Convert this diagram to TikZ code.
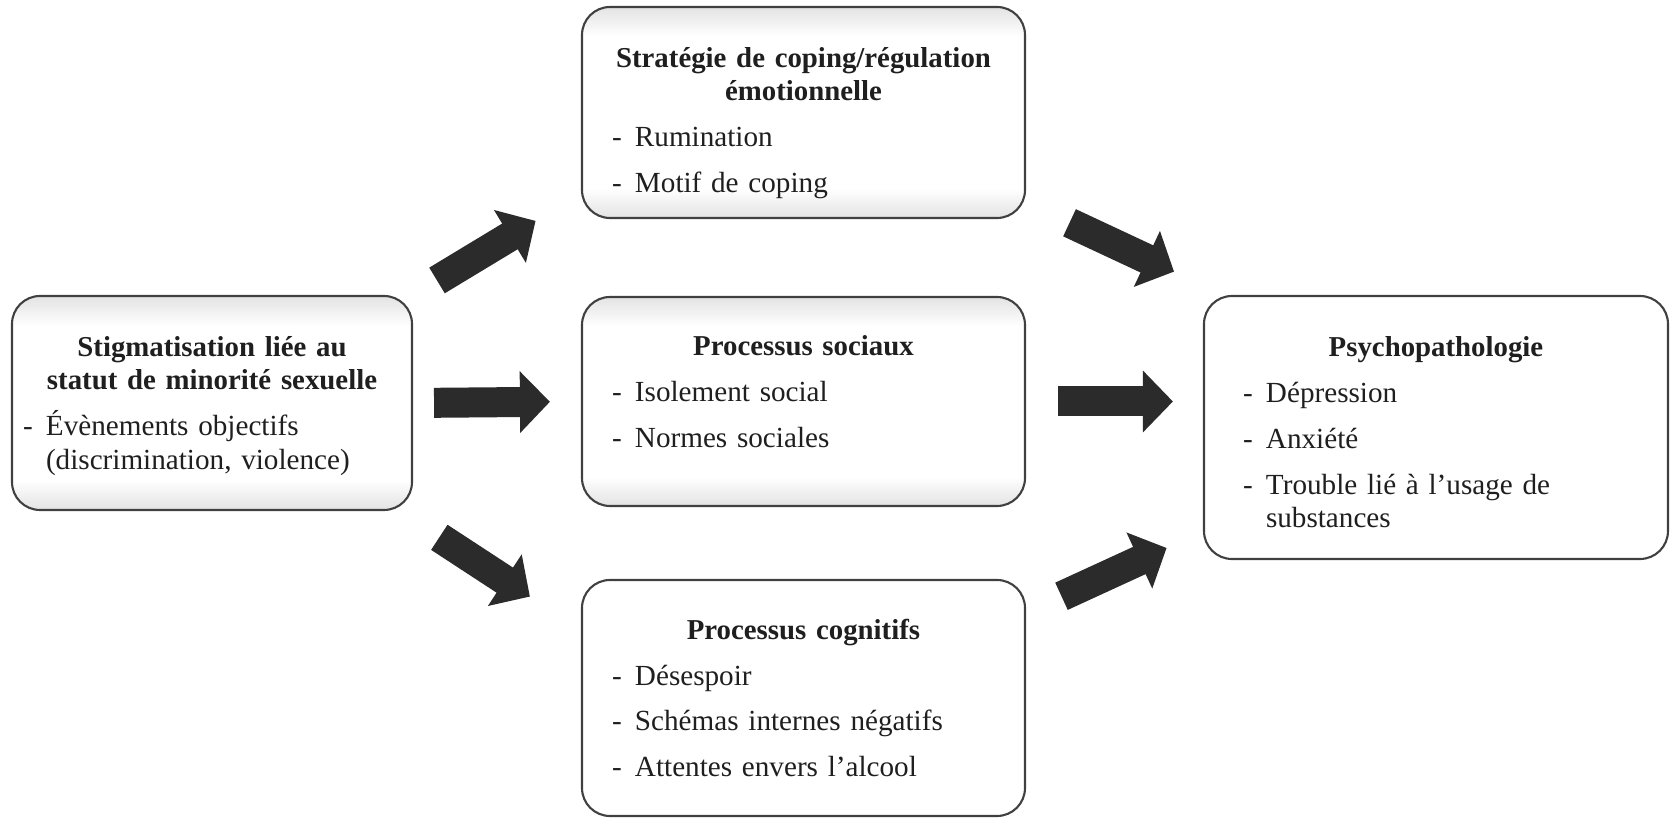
\documentclass[tikz,border=0pt]{standalone}
\usepackage{fontspec}
\setmainfont{Liberation Serif}
\usepackage{tikz}
\usepackage{xcolor}
\usetikzlibrary{positioning, arrows.meta}

\colorlet{halogris}{gray!22}
\colorlet{flechec}{black!83}
\pgfdeclareverticalshading{halo}{100bp}{color(0bp)=(halogris); color(25bp)=(halogris); color(32bp)=(white); color(68bp)=(white); color(75bp)=(halogris); color(100bp)=(halogris)}

\newlength{\tiretw}
\setlength{\tiretw}{0.23cm}
% centred bold title, one line per argument
\newcommand{\titre}[1]{{\centering\bfseries\fontsize{8.2}{9.4}\selectfont #1\par}}
\newcommand{\ligne}[1]{\makebox[\linewidth][c]{#1}}
\newcommand{\tiret}[1]{\par\vspace{3.4pt}\noindent\makebox[\tiretw][l]{-}\parbox[t]{\dimexpr\linewidth-\tiretw}{\raggedright #1}}

\begin{document}
\begin{tikzpicture}[>=Triangle]
    \tikzset{
        bloc/.style={draw=black!75, line width=0.6pt, rounded corners=0.28cm, fill=white, text=black!88,
                     align=left, font=\fontsize{8.3}{9.6}\selectfont},
        ombre/.style={shade, shading=halo},
        fleche/.style={draw=flechec, line width=0.30cm, -{Triangle[width=0.60cm, length=0.30cm]}}
    }
    \useasboundingbox (0,0) rectangle (16.7,8.25);

    % Boxes
    \node[bloc, ombre, minimum width=4cm, minimum height=2.14cm, inner xsep=0.11cm, text width=3.78cm] (stig) at (2.12,4.22)
        {\titre{\ligne{Stigmatisation liée au}\newline\ligne{statut de minorité sexuelle}}\tiret{Évènements objectifs\newline(discrimination, violence)}\par\vspace{-0.06cm}};
    \node[bloc, ombre, minimum width=4.43cm, minimum height=2.11cm, inner xsep=0.30cm, text width=3.83cm] (coping) at (8.035,7.125)
        {\titre{\ligne{Stratégie de coping/régulation}\newline\ligne{émotionnelle}}\tiret{Rumination}\tiret{Motif de coping}\par\vspace{-0.21cm}};
    \node[bloc, ombre, minimum width=4.43cm, minimum height=2.09cm, inner xsep=0.30cm, text width=3.83cm] (social) at (8.035,4.235)
        {\titre{Processus sociaux}\tiret{Isolement social}\tiret{Normes sociales}\par\vspace{0.2cm}};
    \node[bloc, minimum width=4.43cm, minimum height=2.36cm, inner xsep=0.30cm, text width=3.83cm] (cognitif) at (8.035,1.27)
        {\titre{Processus cognitifs}\tiret{Désespoir}\tiret{Schémas internes négatifs}\tiret{Attentes envers l’alcool}};
    \node[bloc, minimum width=4.64cm, minimum height=2.63cm, inner xsep=0.39cm, text width=3.86cm] (psycho) at (14.36,3.975)
        {\titre{Psychopathologie}\tiret{Dépression}\tiret{Anxiété}\tiret{Trouble lié à l’usage de\newline substances}\par\vspace{-0.1cm}};

    % Block arrows from stigma
    \draw[fleche, shorten <=0.28cm, shorten >=0.53cm] (stig.north east) -- (coping.200);
    \draw[fleche, shorten <=0.21cm, shorten >=0.31cm] (stig.east) -- (social.west);
    \draw[fleche, shorten <=0.48cm, shorten >=0.61cm] (stig.-30.7) -- (cognitif.163.6);

    % Block arrows to psychopathology
    \draw[fleche, shorten <=0.48cm, shorten >=0.55cm] (coping.-22.45) -- (psycho.148.1);
    \draw[fleche, shorten <=0.32cm, shorten >=0.30cm] (social.east) -- (social.east -| psycho.west);
    \draw[fleche, shorten <=0.39cm, shorten >=0.40cm] (cognitif.21) -- (psycho.204.45);
\end{tikzpicture}
\end{document}
